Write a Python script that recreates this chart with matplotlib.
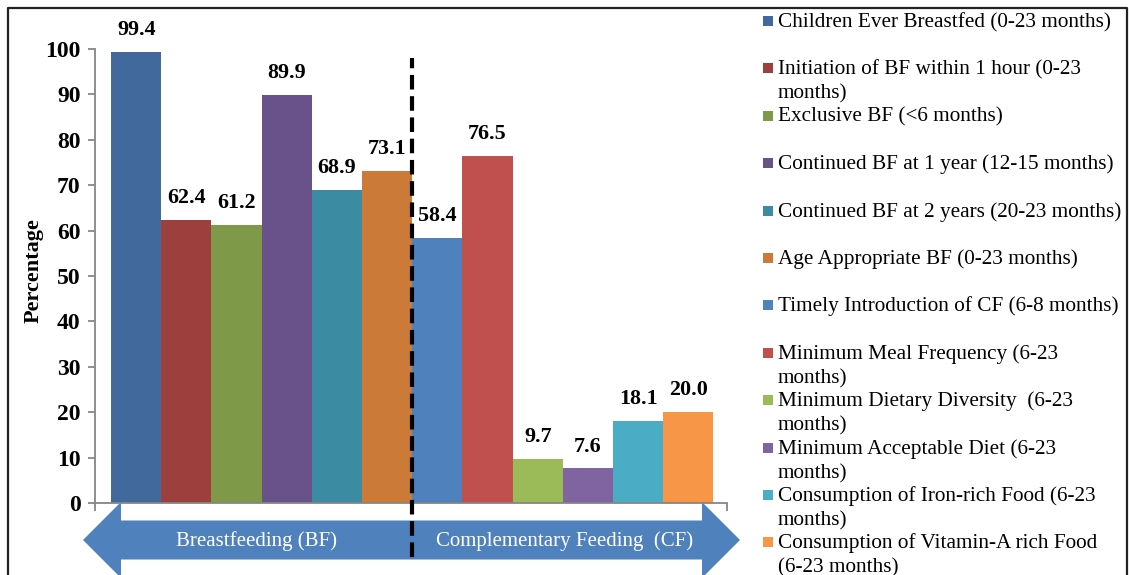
import numpy as np
import matplotlib
matplotlib.use("Agg")
import matplotlib.pyplot as plt
from matplotlib.patches import Polygon, Rectangle

plt.rcParams['font.family'] = ['Liberation Serif', 'DejaVu Serif']

# ---------------- data ----------------
labels = ['Children Ever Breastfed (0-23 months)',
          'Initiation of BF within 1 hour (0-23\nmonths)',
          'Exclusive BF (<6 months)',
          'Continued BF at 1 year (12-15 months)',
          'Continued BF at 2 years (20-23 months)',
          'Age Appropriate BF (0-23 months)',
          'Timely Introduction of CF (6-8 months)',
          'Minimum Meal Frequency (6-23\nmonths)',
          'Minimum Dietary Diversity  (6-23\nmonths)',
          'Minimum Acceptable Diet (6-23\nmonths)',
          'Consumption of Iron-rich Food (6-23\nmonths)',
          'Consumption of Vitamin-A rich Food\n(6-23 months)']
values = [99.4, 62.4, 61.2, 89.9, 68.9, 73.1, 58.4, 76.5, 9.7, 7.6, 18.1, 20.0]
colors = ['#41699B', '#9D403D', '#7E9A48', '#69518A', '#3B8CA3', '#CC7A37',
          '#4F81BD', '#C0504D', '#9BBB59', '#8064A2', '#4BACC6', '#F79646']
groups = ['Breastfeeding (BF)', 'Complementary Feeding  (CF)']
n_bf = 6  # first six bars are breastfeeding indicators

W, H = 1129, 575
fig = plt.figure(figsize=(W / 100, H / 100), dpi=100)

# overlay in pixel coordinates for frame, arrow and legend
ov = fig.add_axes([0, 0, 1, 1])
ov.set_xlim(0, W)
ov.set_ylim(H, 0)
ov.axis('off')
ov.set_zorder(0)

# main chart
ax = fig.add_axes([95 / W, (H - 503) / H, 632 / W, 454 / H])
ax.set_zorder(1)
ax.patch.set_alpha(0)

x = np.arange(len(values))
ax.bar(x, values, width=1.0, color=colors, zorder=2)
ax.set_xlim(-0.82, 11.77)
ax.set_ylim(0, 100)

for xi, v in zip(x, values):
    ax.annotate('{0:.1f}'.format(v), (xi, v), xytext=(0, 12.2),
                textcoords='offset points', ha='center', va='baseline',
                fontsize=15.8, fontweight='bold')

# divider between BF and CF
ax.plot([n_bf - 0.5, n_bf - 0.5], [-12, 98], color='black', lw=3,
        ls=(0, (3.5, 1.6)), clip_on=False, zorder=6)

ax.set_yticks(np.arange(0, 101, 10))
ax.set_xticks([-0.82, 11.77])
ax.set_xticklabels(['', ''])
ax.tick_params(axis='y', length=5, width=1.3, color='#868686', labelsize=17, pad=5.5)
ax.tick_params(axis='x', length=6, width=1.3, color='#868686')
for lbl in ax.get_yticklabels():
    lbl.set_fontweight('bold')
for s in ['top', 'right']:
    ax.spines[s].set_visible(False)
for s in ['left', 'bottom']:
    ax.spines[s].set_color('#868686')
    ax.spines[s].set_linewidth(1.3)

fig.text(34 / W, 1 - 271 / H, 'Percentage', rotation=90, ha='center',
         va='center', fontsize=16, fontweight='bold')

# double headed arrow under the axis
pts = [(83, 540), (121, 502), (121, 520.5), (702, 520.5), (702, 502), (740, 540),
       (702, 578), (702, 559.5), (121, 559.5), (121, 578)]
ov.add_patch(Polygon(pts, closed=True, color='#4F81BD', lw=0, clip_on=False))
ov.text(257, 541, groups[0], color='white', fontsize=15, ha='center', va='center')
ov.text(565, 541, groups[1], color='white', fontsize=15, ha='center', va='center')

# legend, drawn by hand so each entry gets the same slot height
for i, (lab, c) in enumerate(zip(labels, colors)):
    yc = 21 + i * 47.4
    ov.add_patch(Rectangle((763, yc - 5), 10, 10, color=c, lw=0))
    for j, line in enumerate(lab.split('\n')):
        ov.text(778, yc + 6 + j * 24.5, line, fontsize=15.3, va='baseline',
                ha='left')

# outer frame
ov.plot([8, 8, 1127, 1127], [590, 8, 8, 590], color='#222222', lw=1.6,
        clip_on=False)

fig.savefig('out.png', dpi=100)
